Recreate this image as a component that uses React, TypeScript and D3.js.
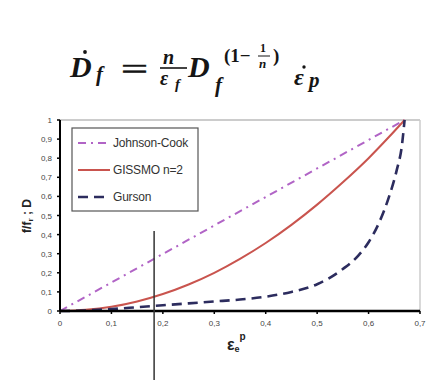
import React from "react";
import * as d3 from "d3";

const xTicks = [0, 0.1, 0.2, 0.3, 0.4, 0.5, 0.6, 0.7];
const yTicks = [0, 0.1, 0.2, 0.3, 0.4, 0.5, 0.6, 0.7, 0.8, 0.9, 1];
const fmt = (v: number) => String(v).replace(".", ",");

const johnsonX = [0, 0.67];
const johnsonY = [0, 1];
const gissmoX = [0, 0.05, 0.1, 0.15, 0.2, 0.25, 0.3, 0.35, 0.4, 0.45, 0.5, 0.55, 0.6, 0.64, 0.67];
const gissmoY = [0, 0.006, 0.022, 0.05, 0.089, 0.139, 0.2, 0.273, 0.356, 0.451, 0.557, 0.674, 0.8, 0.912, 1];
const gursonX = [0, 0.05, 0.1, 0.15, 0.2, 0.25, 0.3, 0.35, 0.4, 0.45, 0.5, 0.55, 0.58, 0.6, 0.62, 0.64, 0.655, 0.665, 0.67];
const gursonY = [0, 0.003, 0.01, 0.02, 0.03, 0.04, 0.05, 0.06, 0.075, 0.1, 0.14, 0.22, 0.29, 0.36, 0.46, 0.6, 0.74, 0.87, 1];
const seriesNames = ["Johnson-Cook", "GISSMO n=2", "Gurson"];
const markerX = 0.183;

export default function App() {
  const x = d3.scaleLinear().domain([0, 0.7]).range([60, 420]);
  const y = d3.scaleLinear().domain([0, 1]).range([311, 120]);
  const line = d3
    .line<[number, number]>()
    .x((d) => x(d[0]))
    .y((d) => y(d[1]))
    .curve(d3.curveMonotoneX);
  const zip = (a: number[], b: number[]) => a.map((v, i) => [v, b[i]] as [number, number]);

  const styles = [
    { stroke: "#b164c6", width: 2, dash: "8,5,2,5" },
    { stroke: "#c9544e", width: 2, dash: "" },
    { stroke: "#2c2c5e", width: 2.6, dash: "10,6" },
  ];
  const data = [zip(johnsonX, johnsonY), zip(gissmoX, gissmoY), zip(gursonX, gursonY)];
  const sans = "'Liberation Sans', Arial, sans-serif";

  return (
    <svg width={436} height={380} style={{ position: "absolute", left: 0, top: 0, background: "#fff" }}>
      {/* formula */}
      <g fontFamily="'Liberation Serif', 'Times New Roman', serif" fontStyle="italic" fontWeight="bold" fill="#151515">
        <text x={70} y={77} fontSize={30}>D</text>
        <circle cx={85} cy={52} r={1.9} />
        <text x={96} y={81} fontSize={21}>f</text>
        <text x={121} y={79} fontSize={30} fontStyle="normal" fontWeight="normal" stroke="#151515" strokeWidth={0.6} textLength={27} lengthAdjust="spacingAndGlyphs">=</text>
        <text x={163} y={64} fontSize={20}>n</text>
        <line x1={160} x2={187} y1={68} y2={68} stroke="#151515" strokeWidth={1.6} />
        <text x={160} y={85} fontSize={20}>ε</text>
        <text x={175} y={89} fontSize={15}>f</text>
        <text x={188} y={77} fontSize={30}>D</text>
        <text x={215} y={92} fontSize={21}>f</text>
        <text x={224} y={62} fontSize={19} fontStyle="normal">(1−</text>
        <text x={260} y={52} fontSize={12} fontStyle="normal">1</text>
        <line x1={258} x2={270} y1={56} y2={56} stroke="#151515" strokeWidth={1} />
        <text x={259} y={68} fontSize={13}>n</text>
        <text x={273} y={62} fontSize={19} fontStyle="normal">)</text>
        <text x={294} y={85} fontSize={24}>ε</text>
        <circle cx={304} cy={67} r={1.7} />
        <text x={309} y={87} fontSize={21}>p</text>
      </g>

      {/* plot frame */}
      <line x1={x(0)} x2={x(0.7)} y1={y(1)} y2={y(1)} stroke="#bbb" strokeWidth={1.5} />
      <line x1={x(0.7)} x2={x(0.7)} y1={y(1)} y2={y(0)} stroke="#ccc" strokeWidth={1.5} />

      {/* series */}
      {data.map((d, i) => (
        <path
          key={i}
          d={line(d) || ""}
          fill="none"
          stroke={styles[i].stroke}
          strokeWidth={styles[i].width}
          strokeDasharray={styles[i].dash || undefined}
        />
      ))}

      {/* axes */}
      <line x1={x(0)} x2={x(0)} y1={y(1)} y2={y(0)} stroke="#000" strokeWidth={2} />
      <line x1={x(0)} x2={x(0.7)} y1={y(0)} y2={y(0)} stroke="#000" strokeWidth={2.5} />
      {yTicks.map((t) => (
        <g key={"y" + t}>
          <line x1={x(0) - 3} x2={x(0)} y1={y(t)} y2={y(t)} stroke="#000" strokeWidth={1.5} />
          <text x={x(0) - 8} y={y(t) + 3} fontSize={8} textAnchor="end" fill="#444" fontFamily={sans}>
            {fmt(t)}
          </text>
        </g>
      ))}
      {xTicks.map((t) => (
        <g key={"x" + t}>
          <line x1={x(t)} x2={x(t)} y1={y(0)} y2={y(0) + 3} stroke="#000" strokeWidth={1.5} />
          <text x={x(t)} y={y(0) + 15} fontSize={8} textAnchor="middle" fill="#444" fontFamily={sans}>
            {fmt(t)}
          </text>
        </g>
      ))}

      {/* axis titles */}
      <text transform="translate(31,216) rotate(-90)" textAnchor="middle" fontSize={12} fontWeight="bold" fill="#222" fontFamily={sans}>
        f/f<tspan fontSize={8} dy={2}>r</tspan>
        <tspan dy={-2}> ; D</tspan>
      </text>
      <text x={227} y={350} fontSize={16} fontWeight="bold" fill="#222" fontFamily={sans}>
        ε<tspan fontSize={9} dy={2}>e</tspan>
        <tspan fontSize={10} dy={-12} dx={0}>p</tspan>
      </text>

      {/* legend */}
      <rect x={72} y={128} width={126} height={83} fill="#fff" stroke="#555" strokeWidth={1.2} />
      {seriesNames.map((n, i) => {
        const ly = 143 + i * 27;
        return (
          <g key={n}>
            <line x1={78} x2={110} y1={ly} y2={ly} stroke={styles[i].stroke} strokeWidth={styles[i].width} strokeDasharray={styles[i].dash || undefined} />
            <text x={113} y={ly + 4} fontSize={12} fill="#333" fontFamily={sans} letterSpacing={-0.2}>
              {n}
            </text>
          </g>
        );
      })}

      {/* marker line */}
      <line x1={x(markerX)} x2={x(markerX)} y1={231} y2={380} stroke="#333" strokeWidth={1.5} />
    </svg>
  );
}
